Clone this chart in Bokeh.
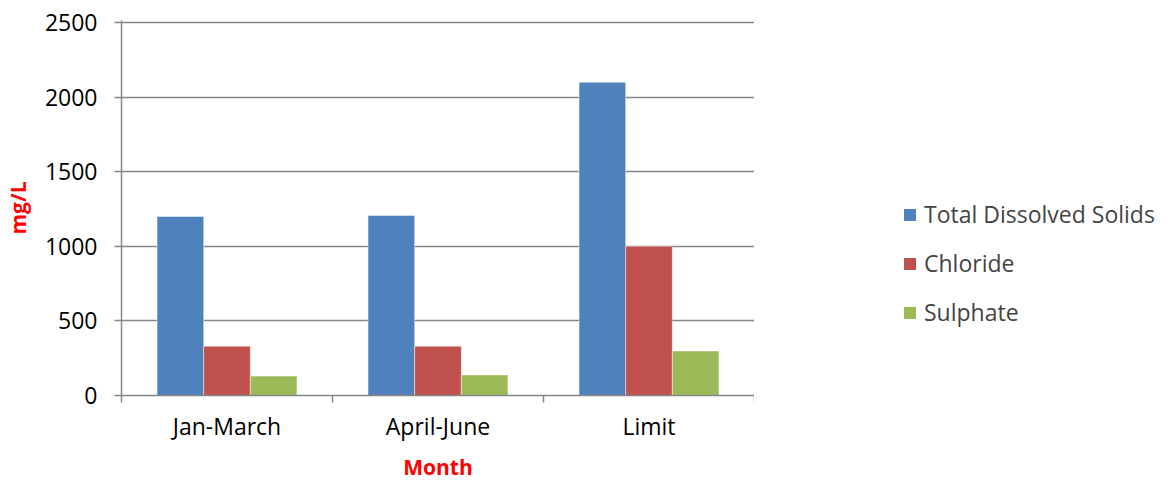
import numpy as np
from bokeh.plotting import figure
from bokeh.layouts import row
from bokeh.models import Range1d, FixedTicker, Legend, LegendItem
from bokeh.embed import file_html
from bokeh.resources import INLINE

categories = ["Jan-March", "April-June", "Limit"]
series_names = ["Total Dissolved Solids", "Chloride", "Sulphate"]
tds = [1200, 1207, 2100]
chloride = [330, 330, 1000]
sulphate = [130, 138, 298]
series_values = [tds, chloride, sulphate]
colors = ["#4F81BD", "#C0504D", "#9BBB59"]
y_ticks = [0, 500, 1000, 1500, 2000, 2500]

FONT = "Open Sans"
GRAY = "#868686"

# y range slightly above the top tick so that the 2500 gridline is drawn
p = figure(width=754, height=483, output_backend="svg", toolbar_location=None,
           x_range=Range1d(0, len(categories)), y_range=Range1d(0, 2514),
           min_border_left=120, min_border_right=0, min_border_top=20,
           min_border_bottom=88)
p.outline_line_color = None
p.background_fill_color = "white"
p.border_fill_color = "white"

centers = np.arange(len(categories)) + 0.5
bw = 0.221
offsets = [-bw, 0.0, bw]

# legend-only figure on the right (its bars lie outside its visible ranges)
p2 = figure(width=416, height=483, output_backend="svg", toolbar_location=None,
            x_range=Range1d(100, 101), y_range=Range1d(-20, -10),
            x_axis_type=None, y_axis_type=None,
            min_border_left=0, min_border_right=0, min_border_top=0, min_border_bottom=0)
p2.outline_line_color = None
p2.xgrid.visible = False
p2.ygrid.visible = False
p2.border_fill_color = "white"
p2.background_fill_color = "white"

items = []
for name, vals, col, off in zip(series_names, series_values, colors, offsets):
    p.vbar(x=centers + off, top=vals, width=bw, bottom=0,
           fill_color=col, line_color="white", line_alpha=0.45, line_width=1)
    r2 = p2.vbar(x=centers + off, top=vals, width=bw, bottom=0,
                 fill_color=col, line_color=col, line_width=0)
    items.append(LegendItem(label=name, renderers=[r2]))

# grid
p.xgrid.visible = False
p.ygrid.ticker = FixedTicker(ticks=y_ticks)
p.ygrid.grid_line_color = GRAY
p.ygrid.grid_line_width = 1.5

# x axis
xa = p.xaxis[0]
xa.ticker = FixedTicker(ticks=list(centers), minor_ticks=list(range(len(categories) + 1)))
xa.major_label_overrides = {float(c): cat for c, cat in zip(centers, categories)}
xa.major_tick_out = 0
xa.major_tick_in = 0
xa.minor_tick_out = 7
xa.minor_tick_in = 0
xa.minor_tick_line_color = GRAY
xa.minor_tick_line_width = 1.5
xa.axis_line_color = GRAY
xa.axis_line_width = 1.5
xa.major_label_text_font = FONT
xa.major_label_text_font_size = "23px"
xa.major_label_text_color = "black"
xa.major_label_standoff = 7
xa.axis_label = "Month"
xa.axis_label_text_font = FONT
xa.axis_label_text_font_style = "bold"
xa.axis_label_text_font_size = "21px"
xa.axis_label_text_color = "red"
xa.axis_label_standoff = 8

# y axis
ya = p.yaxis[0]
ya.ticker = FixedTicker(ticks=y_ticks, minor_ticks=[])
ya.major_tick_out = 7
ya.major_tick_in = 0
ya.major_tick_line_color = GRAY
ya.major_tick_line_width = 1.5
ya.axis_line_color = GRAY
ya.axis_line_width = 1.5
ya.major_label_text_font = FONT
ya.major_label_text_font_size = "23px"
ya.major_label_text_color = "black"
ya.major_label_standoff = 17
ya.axis_label = "mg/L"
ya.axis_label_text_font = FONT
ya.axis_label_text_font_style = "bold"
ya.axis_label_text_font_size = "21px"
ya.axis_label_text_color = "red"
ya.axis_label_standoff = 10

legend = Legend(items=items, location=(148, 67), orientation="vertical",
                glyph_width=15, glyph_height=15, label_standoff=7, spacing=17,
                padding=0, margin=0, border_line_color=None,
                background_fill_alpha=0, label_text_font=FONT,
                label_text_font_size="23px", label_height=30)
p2.add_layout(legend, "center")

layout = row(p, p2, spacing=0)
open("out.html", "w").write(file_html(layout, INLINE))
